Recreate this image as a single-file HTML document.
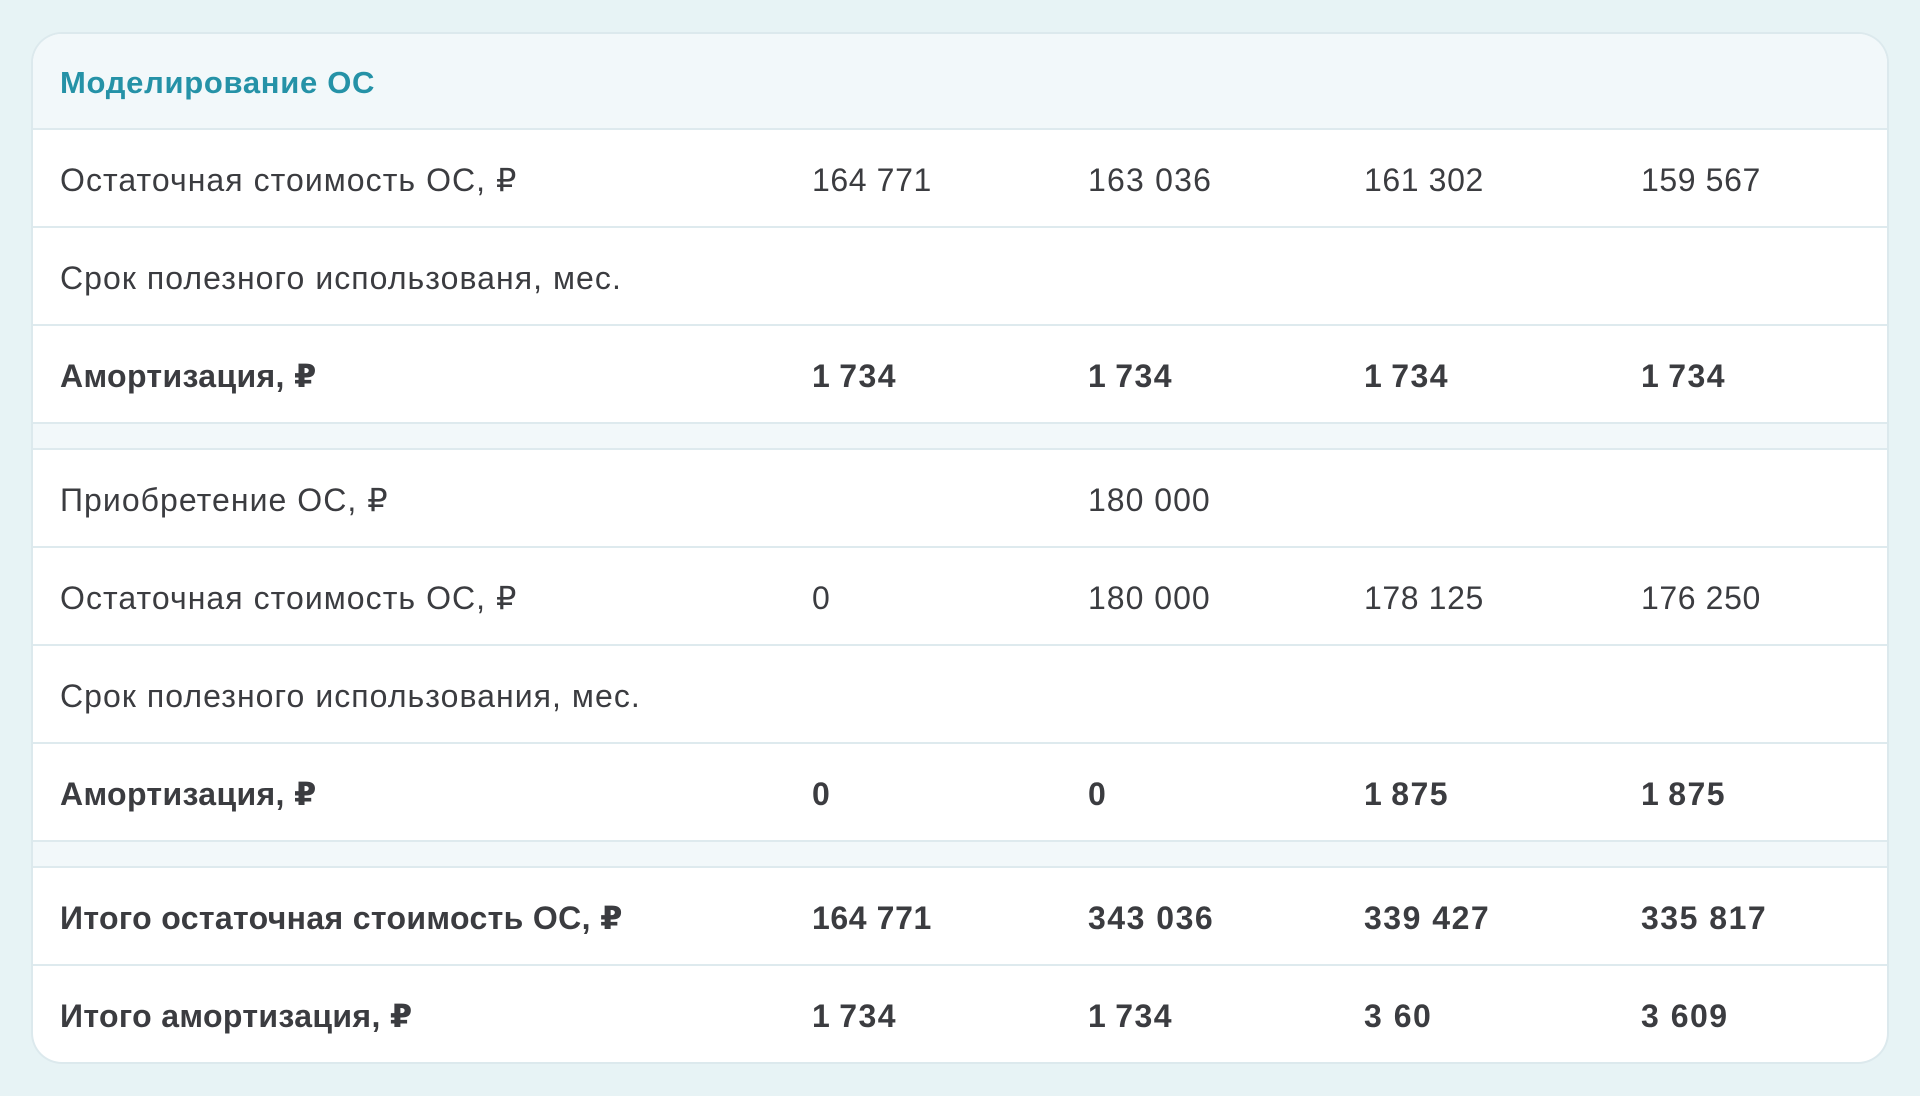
<!DOCTYPE html>
<html><head><meta charset="utf-8">
<style>
html,body{margin:0;padding:0;}
body{width:1920px;height:1096px;background:#e7f3f5;position:relative;overflow:hidden;font-family:"Liberation Sans","DejaVu Sans",sans-serif;color:#3b3c40;}
.card{position:absolute;left:33px;top:34px;width:1854px;height:1028px;background:#fff;border-radius:29px;box-shadow:0 0 0 2px #dce9ed;overflow:hidden;}
.hdr{position:absolute;left:0;top:0;width:100%;height:95px;background:#f2f8fa;}
.title{position:absolute;left:27px;top:1px;height:95px;line-height:95px;font-size:31px;font-weight:bold;color:#2592a7;letter-spacing:0.7px;}
.line{position:absolute;left:0;width:100%;height:2px;background:#deeaee;}
.sp{position:absolute;left:0;width:100%;background:#f2f8fa;}
.row{position:absolute;left:0;width:100%;height:96px;font-size:32px;line-height:100px;white-space:nowrap;letter-spacing:0.6px;}
.row span{position:absolute;top:0;}
.row .l{left:27px;letter-spacing:1.05px;}
.row .c1{left:779px;}
.row .c2{left:1055px;}
.row .c3{left:1331px;}
.row .c4{left:1608px;}
.b{font-weight:bold;letter-spacing:1.5px;}
.b .l{letter-spacing:0.35px !important;}
</style></head><body>
<div class="card">
  <div class="hdr"></div>
  <div class="title">Моделирование ОС</div>
  <div class="line" style="top:94px"></div>

  <div class="row" style="top:96px"><span class="l">Остаточная стоимость ОС, ₽</span><span class="c1">164 771</span><span class="c2" style="letter-spacing:1.2px">163 036</span><span class="c3">161 302</span><span class="c4">159 567</span></div>
  <div class="line" style="top:192px"></div>
  <div class="row" style="top:194px"><span class="l">Срок полезного использованя, мес.</span></div>
  <div class="line" style="top:290px"></div>
  <div class="row b" style="top:292px"><span class="l">Амортизация, ₽</span><span class="c1">1&#8201;734</span><span class="c2">1&#8201;734</span><span class="c3">1&#8201;734</span><span class="c4">1&#8201;734</span></div>
  <div class="line" style="top:388px"></div>
  <div class="sp" style="top:390px;height:24px"></div>
  <div class="line" style="top:414px"></div>

  <div class="row" style="top:416px"><span class="l">Приобретение ОС, ₽</span><span class="c2" style="letter-spacing:1px">180 000</span></div>
  <div class="line" style="top:512px"></div>
  <div class="row" style="top:514px"><span class="l">Остаточная стоимость ОС, ₽</span><span class="c1">0</span><span class="c2" style="letter-spacing:1px">180 000</span><span class="c3">178 125</span><span class="c4">176 250</span></div>
  <div class="line" style="top:610px"></div>
  <div class="row" style="top:612px"><span class="l">Срок полезного использования, мес.</span></div>
  <div class="line" style="top:708px"></div>
  <div class="row b" style="top:710px"><span class="l">Амортизация, ₽</span><span class="c1">0</span><span class="c2">0</span><span class="c3">1&#8201;875</span><span class="c4">1&#8201;875</span></div>
  <div class="line" style="top:806px"></div>
  <div class="sp" style="top:808px;height:24px"></div>
  <div class="line" style="top:832px"></div>

  <div class="row b" style="top:834px"><span class="l">Итого остаточная стоимость ОС, ₽</span><span class="c1" style="letter-spacing:0.6px">164 771</span><span class="c2">343 036</span><span class="c3">339 427</span><span class="c4">335 817</span></div>
  <div class="line" style="top:930px"></div>
  <div class="row b" style="top:932px"><span class="l">Итого амортизация, ₽</span><span class="c1">1&#8201;734</span><span class="c2">1&#8201;734</span><span class="c3">3 60</span><span class="c4">3 609</span></div>
</div>
</body></html>
